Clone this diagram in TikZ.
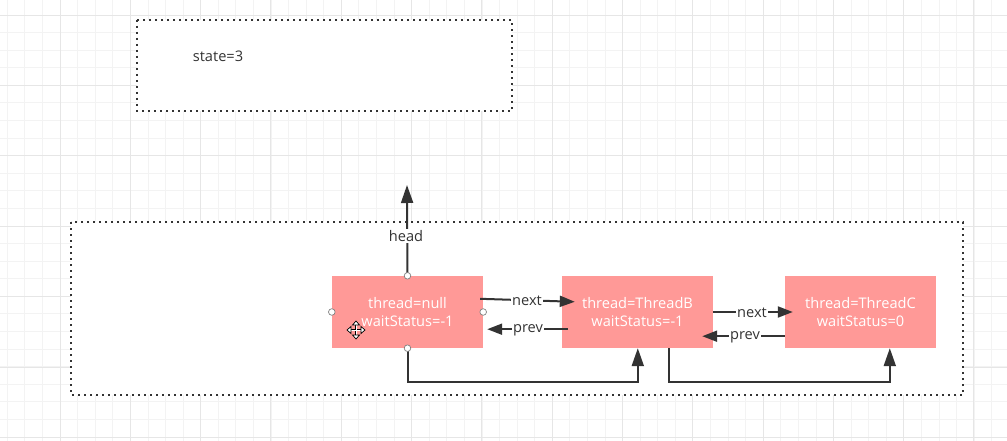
\documentclass[tikz,border=0pt]{standalone}
\usepackage{fontspec}
\setmainfont{Open Sans}
\usetikzlibrary{arrows.meta,calc}
\definecolor{ink}{HTML}{333333}
\definecolor{nodepink}{RGB}{255,153,151}
\definecolor{gridminor}{HTML}{F3F3F3}
\definecolor{gridmajor}{HTML}{E6E6E6}
\tikzset{
  dotbox/.style={draw=ink, line width=2.4pt, dash pattern=on 2.4pt off 3.6pt, fill=white},
  qnode/.style={fill=nodepink, minimum width=151pt, minimum height=72pt, inner sep=0pt,
    align=center, text=white, font=\fontsize{14.6}{18}\selectfont},
  arr/.style={draw=ink, line width=2pt, -{Triangle[length=15pt,width=11pt]}},
  varr/.style={draw=ink, line width=2pt, -{Triangle[length=18pt,width=12pt]}},
  lbl/.style={fill=white, inner sep=1.5pt, text=ink, font=\fontsize{14.6}{17}\selectfont},
  handle/.style={draw=gray, fill=white, line width=0.7pt}
}
\begin{document}
\begin{tikzpicture}[x=1pt,y=-1pt]
\useasboundingbox (0,0) rectangle (1007,441);
\fill[white] (0,0) rectangle (1007,441);
% grid
\foreach \i in {-4,...,54} {
  \draw[gridminor, line width=0.8pt] (60+17.58*\i,0) -- (60+17.58*\i,441);
}
\foreach \j in {-1,...,24} {
  \draw[gridminor, line width=0.8pt] (0,15+17.58*\j) -- (1007,15+17.58*\j);
}
\foreach \i in {-1,...,14} {
  \draw[gridmajor, line width=0.9pt] (60+70.3*\i,0) -- (60+70.3*\i,441);
}
\foreach \j in {0,...,6} {
  \draw[gridmajor, line width=0.9pt] (0,15+70.4*\j) -- (1007,15+70.4*\j);
}
% boxes
\path[dotbox] (137,20) rectangle (512,111);
\node[lbl, fill=none, anchor=center] (state) at (218,56) {state=3};
\path[dotbox] (71,222) rectangle (963,395);
% nodes
\node[qnode] (A) at (407.5,312) {thread=null\\waitStatus=-1};
\node[qnode] (B) at (637.5,312) {thread=ThreadB\\waitStatus=-1};
\node[qnode] (C) at (860.5,312) {thread=ThreadC\\waitStatus=0};
% head
\coordinate (headtip) at (407,185);
\draw[varr] (A.north) -- (headtip);
\node[lbl] (headlbl) at (406,236) {head};
% next / prev
\draw[arr] ($(A.north east)+(-3,23)$) -- ($(B.north west)+(13,26)$);
\node[lbl] (next1) at (527,301) {next};
\draw[arr] ($(B.south west)+(6,-19)$) -- ($(A.south east)+(4,-19)$);
\node[lbl] (prev1) at (528,330) {prev};
\draw[arr] (B.east) -- ($(C.west)+(8,0)$);
\node[lbl] (next2) at (752,313) {next};
\draw[arr] ($(C.south west)+(0,-12)$) -- ($(B.south east)+(-11,-12)$);
\node[lbl] (prev2) at (745,337) {prev};
% bottom links
\draw[varr] (A.south) -- ++(0,34) -| ($(B.south west)+(76,0)$);
\draw[varr] ($(B.south west)+(107,0)$) -- ++(0,34) -| ($(C.south west)+(105,0)$);
% selection handles
\foreach \a in {north,south,east,west} {
  \draw[handle] (A.\a) circle (3.3pt);
}
% move cursor
\begin{scope}[shift={(356,330)}]
  \draw[black, line width=2.6pt] (-7,0) -- (7,0) (0,-7) -- (0,7);
  \draw[white, line width=1pt] (-6,0) -- (6,0) (0,-6) -- (0,6);
  \foreach \r in {0,90,180,270} {
    \draw[black, fill=white, line width=0.7pt, rotate=\r] (9,0) -- (5,-3.5) -- (5,3.5) -- cycle;
  }
\end{scope}
\end{tikzpicture}
\end{document}
